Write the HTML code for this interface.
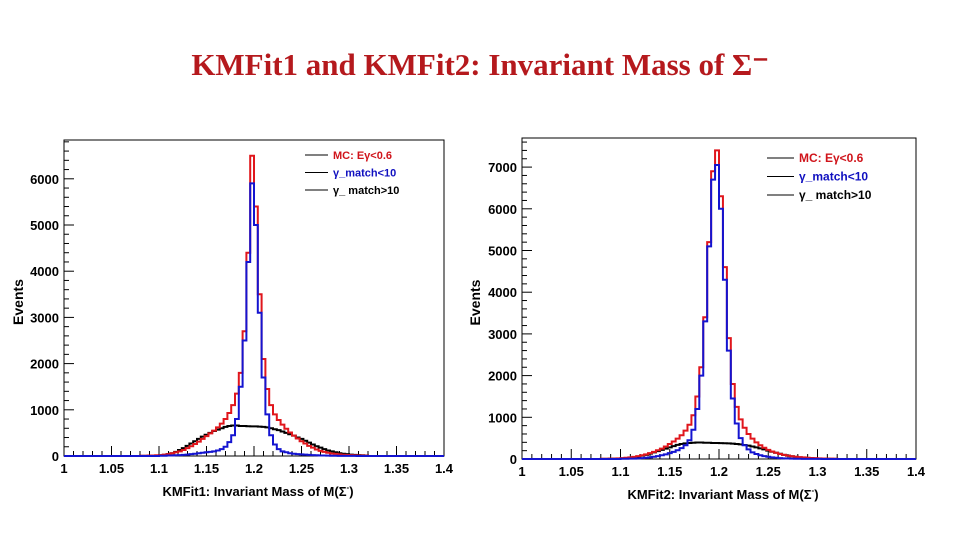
<!DOCTYPE html>
<html><head><meta charset="utf-8"><style>
body{margin:0;background:#fff;width:960px;height:540px;overflow:hidden}
svg{display:block}
text{font-family:"Liberation Sans",sans-serif;font-weight:bold}
</style></head><body>
<svg id="c" width="960" height="540">
<text x="480" y="75" text-anchor="middle" fill="#b5191d" font-size="31" style="font-family:'Liberation Serif',serif">KMFit1 and KMFit2: Invariant Mass of Σ⁻</text>
</svg>
<script>
const binStart = 1.08, binWidth = 0.004;
const red1 = [5,5,10,10,15,20,30,40,60,80,100,130,170,210,260,310,370,430,490,550,620,700,800,930,1100,1350,1800,2700,4400,6500,5400,3500,2100,1450,1100,900,780,680,590,510,440,380,320,270,220,180,140,110,90,70,55,45,35,28,22,18,15,12,10,8];
const blue1 = [0,0,0,0,0,5,5,10,10,15,20,25,30,40,50,60,70,80,90,100,120,150,200,300,450,800,1500,2500,4200,5900,5000,3100,1700,900,450,250,150,100,80,60,50,40,35,30,25,20,15,12,10,8,6,5,4,3,3,2,2,1,1,1];
const black1 = [2,3,5,8,10,15,25,40,60,90,130,170,220,270,320,370,420,460,500,540,570,600,630,650,660,660,650,650,645,640,640,635,630,620,600,580,560,530,500,470,440,400,370,330,290,250,210,180,150,120,100,80,60,50,40,30,25,20,15,12];
const red2 = [5,5,10,10,15,20,30,40,50,70,90,110,140,170,210,250,300,360,420,490,570,680,820,1050,1500,2200,3400,5200,6900,7400,6300,4600,2900,1800,1250,950,750,600,490,400,330,270,220,180,150,120,100,80,65,55,45,38,30,25,20,16,13,10,8,6];
const blue2 = [0,0,0,0,0,5,5,8,10,15,20,30,40,55,70,90,110,140,170,210,260,330,450,700,1200,2000,3300,5100,6700,7050,6000,4300,2600,1450,850,500,330,230,160,120,90,70,55,40,30,22,16,12,9,7,5,4,3,3,2,2,1,1,1,1];
const black2 = [2,3,5,8,10,15,20,30,45,60,80,100,130,160,190,220,250,280,310,340,360,375,385,390,395,395,390,390,385,385,380,378,375,370,360,350,335,320,300,280,255,230,200,175,150,125,100,80,65,50,40,30,22,17,12,10,8,6,4,3];
const xTicks = ["1","1.05","1.1","1.15","1.2","1.25","1.3","1.35","1.4"];
const yTicks1 = [0,1000,2000,3000,4000,5000,6000];
const yTicks2 = [0,1000,2000,3000,4000,5000,6000,7000];
const legendLabels = ["MC:   E\u03b3<0.6","\u03b3_match<10","\u03b3_ match>10"];

const svg = document.getElementById('c');
const NS = 'http://www.w3.org/2000/svg';
function mk(tag, attrs, parent){const e=document.createElementNS(NS,tag);for(const k in attrs)e.setAttribute(k,attrs[k]);(parent||svg).appendChild(e);return e;}

function panel(p){
  const g = mk('g',{});
  
  
  const xs = v => p.l + (v - 1.0) / 0.4 * (p.r - p.l);
  const ys = v => p.b - v / 1000 * p.per1000;
  const fr = mk('rect',{x:p.l,y:p.t,width:p.r-p.l,height:p.b-p.t,fill:'none',stroke:'#000','stroke-width':1},g);
  
  
  for(let i=0;i<=40;i++){
    const v=1+i*0.01, X=xs(v), len=(i%5===0)?10:5;
    mk('line',{x1:X,y1:p.b,x2:X,y2:p.b-len,stroke:'#000','stroke-width':1},g);
  }
  xTicks.forEach(t=>{
    const tx = mk('text',{x:xs(parseFloat(t)),y:p.b+17,'text-anchor':'middle','font-size':13},g);
    tx.textContent=t;
    
    
  });
  const maxY = (p.b-p.t)/p.per1000*1000;
  for(let v=0;v<=maxY;v+=200){
    const Y=ys(v), len=(v%1000===0)?10:5;
    mk('line',{x1:p.l,y1:Y,x2:p.l+len,y2:Y,stroke:'#000','stroke-width':1},g);
  }
  p.yTicks.forEach(v=>{
    const tx = mk('text',{x:p.l-5,y:ys(v)+5,'text-anchor':'end','font-size':13},g);
    tx.textContent=v;
    
    
  });
  const yt = mk('text',{x:0,y:0,transform:`translate(${p.yLabelX},${(p.t+p.b)/2+4}) rotate(-90)`,'text-anchor':'middle','font-size':14},g);
  yt.textContent='Events';
  
  
  const xt = mk('text',{x:(p.l+p.r)/2+4,y:p.b+40,'text-anchor':'middle','font-size':13},g);
  xt.innerHTML = p.xLabel + ': Invariant Mass of M(\u03a3<tspan dy="-6" font-size="8">-</tspan><tspan dy="6">)</tspan>';
  
  
  p.series.forEach(s=>{
    let d = `M${xs(1.0)},${ys(0)} L${xs(binStart)},${ys(0)}`;
    s.data.forEach((v,i)=>{
      const x0=xs(binStart+i*binWidth), x1=xs(binStart+(i+1)*binWidth);
      d += ` L${x0},${ys(v)} L${x1},${ys(v)}`;
    });
    d += ` L${xs(binStart+s.data.length*binWidth)},${ys(0)} L${xs(1.4)},${ys(0)}`;
    const path = mk('path',{d:d,fill:'none',stroke:s.color,'stroke-width':2},g);
    
    
  });
  const cols=['#d0141b','#1010c0','#000'];
  legendLabels.forEach((lab,i)=>{
    const Y=p.legY+i*p.legDy;
    mk('line',{x1:p.legX,y1:Y,x2:p.legX+p.legLen,y2:Y,stroke:'#000','stroke-width':1},g);
    const tx = mk('text',{x:p.legX+p.legLen+5,y:Y+4,'font-size':p.legFs,fill:cols[i]},g);
    tx.textContent=lab;
    
    
  });
}

panel({name:'kmfit1-panel',l:64,r:444,t:140,b:456,per1000:46.2,yTicks:yTicks1,yLabelX:23,xLabel:'KMFit1',
  legX:305,legLen:23,legY:155,legDy:17.5,legFs:11,
  series:[{data:black1,color:'#000',name:'series-match-gt10'},{data:red1,color:'#e0161c',name:'series-mc'},{data:blue1,color:'#1414d0',name:'series-match-lt10'}]});
panel({name:'kmfit2-panel',l:522,r:916,t:138,b:459,per1000:41.7,yTicks:yTicks2,yLabelX:480,xLabel:'KMFit2',
  legX:767,legLen:27,legY:158,legDy:18.5,legFs:12,
  series:[{data:black2,color:'#000',name:'series-match-gt10'},{data:red2,color:'#e0161c',name:'series-mc'},{data:blue2,color:'#1414d0',name:'series-match-lt10'}]});
</script>
</body></html>
